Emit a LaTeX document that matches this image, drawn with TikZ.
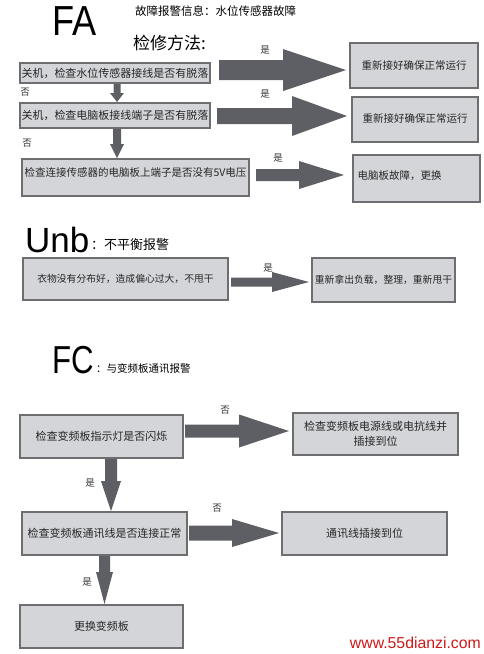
\documentclass[tikz,border=0pt]{standalone}
\usepackage{fontspec}
\usepackage{graphicx}
\setmainfont{Noto Sans CJK SC}
\newfontfamily\latf{Liberation Sans}
\usetikzlibrary{calc}
\definecolor{boxfill}{HTML}{D4D5D9}
\definecolor{boxline}{HTML}{6E6E70}
\definecolor{arrowc}{HTML}{5E5F64}
\definecolor{wmred}{HTML}{D01818}
\newcommand\fsz[2]{\fontsize{#1}{#2}\selectfont}
% horizontal block arrow: start, end, shaft half, head half, head length
\newcommand\harrow[5]{\path[arrowfill] let \p1=(#1), \p2=(#2) in
  (\x1,\y1+#3) -- (\x2-#5,\y1+#3) -- (\x2-#5,\y1+#4) -- (\x2,\y1) --
  (\x2-#5,\y1-#4) -- (\x2-#5,\y1-#3) -- (\x1,\y1-#3) -- cycle;}
% downward block arrow
\newcommand\varrow[5]{\path[arrowfill] let \p1=(#1), \p2=(#2) in
  (\x1-#3,\y1) -- (\x1-#3,\y2+#5) -- (\x1-#4,\y2+#5) -- (\x1,\y2) --
  (\x1+#4,\y2+#5) -- (\x1+#3,\y2+#5) -- (\x1+#3,\y1) -- cycle;}
\tikzset{
  box/.style={draw=boxline, fill=boxfill, line width=2pt, inner sep=0pt,
    align=center, text=black!85},
  arrowfill/.style={fill=arrowc},
  lbl/.style={inner sep=0pt, font=\fsz{9.5}{11}, text=black!80},
}
\begin{document}
\begin{tikzpicture}[x=1pt,y=-1pt]
\useasboundingbox (0,0) rectangle (484,654);

% ---------------- FA ----------------
\node[inner sep=0pt, anchor=base west, font=\latf\fsz{42}{46}] (tfa) at (52,35) {\scalebox{0.86}[1]{FA}};
\node[inner sep=0pt, anchor=west, font=\fsz{11.5}{13}] (tfainfo) at (135,11) {故障报警信息：水位传感器故障};
\node[inner sep=0pt, anchor=west, font=\fsz{17}{19}] (tfam) at (133,43) {检修方法:};

\node[box, minimum width=190pt, minimum height=20pt, font=\fsz{11}{13}] (fa1) at (115,73) {关机，检查水位传感器接线是否有脱落};
\node[box, minimum width=190pt, minimum height=25pt, font=\fsz{11}{13}] (fa2) at (115,115.5) {关机，检查电脑板接线端子是否有脱落};
\node[box, minimum width=227pt, minimum height=37pt, font=\fsz{10.5}{12}, text height=8pt, text depth=10pt] (fa3) at (135.5,177.5) {检查连接传感器的电脑板上端子是否没有5V电压};

\node[box, minimum width=128pt, minimum height=45pt, font=\fsz{10.5}{12}] (r1) at (414,65.5) {重新接好确保正常运行};
\node[box, minimum width=126pt, minimum height=45pt, font=\fsz{10.5}{12}, text height=8pt, text depth=3pt] (r2) at (415,119.5) {重新接好确保正常运行};
\node[box, minimum width=127pt, minimum height=47pt, font=\fsz{10.5}{12}, text width=118pt, align=left, text height=8pt, text depth=7pt] (r3) at (416.5,178.5) {电脑板故障，更换};

\harrow{[xshift=8pt,yshift=3pt]fa1.east}{[xshift=-3pt]r1.west}{10pt}{21pt}{63pt}
\harrow{[xshift=6pt,yshift=-0.5pt]fa2.east}{[xshift=-4pt]r2.west}{8pt}{20pt}{55pt}
\harrow{[xshift=6pt,yshift=2.5pt]fa3.east}{[xshift=-8pt]r3.west}{6pt}{14pt}{45pt}
\varrow{[xshift=2pt]fa1.south}{[xshift=2pt]fa2.north}{3.5pt}{7pt}{9pt}
\varrow{[xshift=2pt]fa2.south}{[xshift=-18.5pt]fa3.north}{4pt}{7pt}{14pt}

\node[lbl] (y1) at (265,50) {是};
\node[lbl] (y2) at (265,94) {是};
\node[lbl] (y3) at (278,158) {是};
\node[lbl] (n1) at (25,92) {否};
\node[lbl] (n2) at (27,143) {否};

% ---------------- Unb ----------------
\node[inner sep=0pt, anchor=base west, font=\latf\fsz{35}{40}] (tunb) at (25,252) {Unb};
\node[inner sep=0pt, anchor=west, font=\fsz{13}{15}] (tunbs) at (91,245) {：不平衡报警};
\node[box, minimum width=205pt, minimum height=42pt, font=\fsz{9.8}{12}] (ub1) at (125.5,279) {衣物没有分布好，造成偏心过大，不甩干};
\node[box, minimum width=143pt, minimum height=44pt, font=\fsz{9.8}{12}] (ub2) at (383.5,280) {重新拿出负载，整理，重新甩干};
\harrow{[xshift=2pt,yshift=-3pt]ub1.east}{[xshift=-2pt]ub2.west}{4.5pt}{10pt}{37pt}
\node[lbl] (y4) at (268,268) {是};

% ---------------- FC ----------------
\node[inner sep=0pt, anchor=base west, font=\latf\fsz{39}{44}] (tfc) at (52,373) {\scalebox{0.8}[1]{FC}};
\node[inner sep=0pt, anchor=west, font=\fsz{10.5}{12}] (tfcs) at (96,369) {：与变频板通讯报警};

\node[box, minimum width=163pt, minimum height=43pt, font=\fsz{11}{13}] (fc1) at (101.5,436.5) {检查变频板指示灯是否闪烁};
\node[box, minimum width=165pt, minimum height=42pt, font=\fsz{11}{15}] (fc2) at (375.5,434) {检查变频板电源线或电抗线并\\插接到位};
\node[box, minimum width=165pt, minimum height=43pt, font=\fsz{11}{13}] (fc3) at (104.5,533.5) {检查变频板通讯线是否连接正常};
\node[box, minimum width=165pt, minimum height=43pt, font=\fsz{11}{13}] (fc4) at (364.5,533.5) {通讯线插接到位};
\node[box, minimum width=163pt, minimum height=43pt, font=\fsz{11}{13}] (fc5) at (101.5,626.5) {更换变频板};

\harrow{[xshift=1pt,yshift=5.5pt]fc1.east}{[xshift=-3pt]fc2.west}{6.5pt}{16.5pt}{50pt}
\harrow{[xshift=1pt,yshift=0.5pt]fc3.east}{[xshift=-2pt]fc4.west}{7.5pt}{14pt}{47pt}
\varrow{[xshift=9.5pt]fc1.south}{[xshift=6.5pt]fc3.north}{6pt}{10pt}{30pt}
\varrow{fc3.south}{[xshift=3pt]fc5.north}{5.5pt}{8.5pt}{32pt}

\node[lbl] (n3) at (225,410) {否};
\node[lbl] (n4) at (217,508) {否};
\node[lbl] (y5) at (90,483) {是};
\node[lbl] (y6) at (87,582) {是};

\node[inner sep=0pt, anchor=east, font=\latf\fsz{15.8}{18}, text=wmred] (wm) at (481,643) {www.55dianzi.com};
\end{tikzpicture}
\end{document}
